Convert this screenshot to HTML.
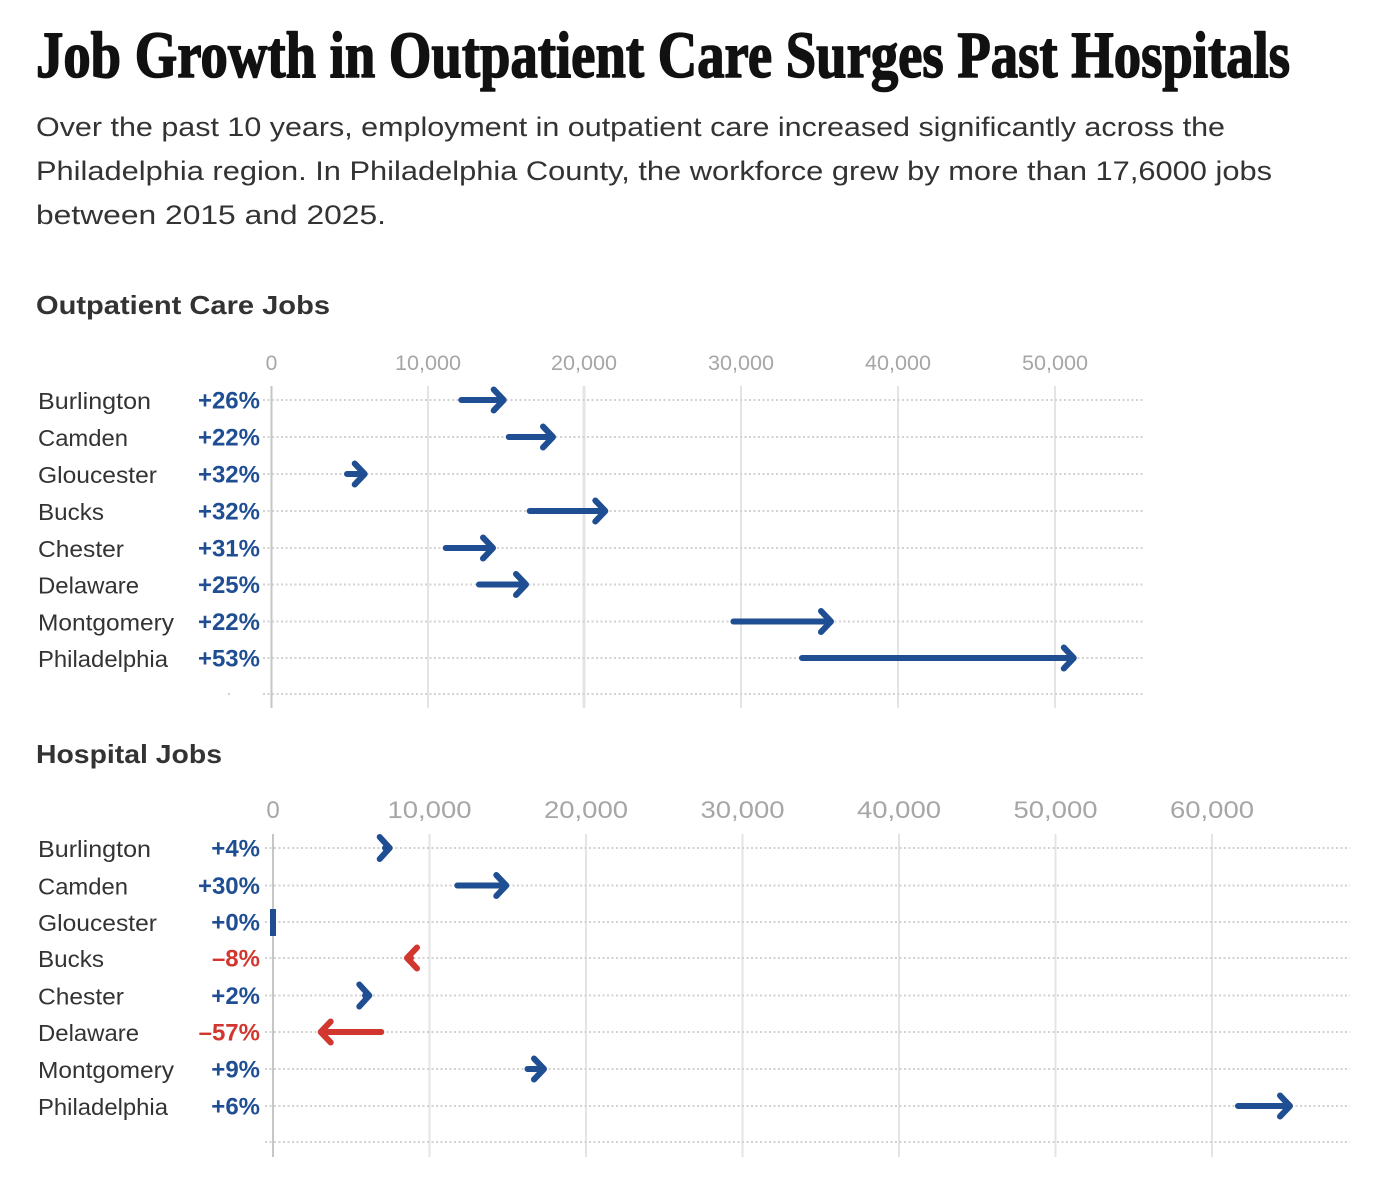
<!DOCTYPE html>
<html>
<head>
<meta charset="utf-8">
<style>
  html,body{margin:0;padding:0;background:#fff;}
  svg{display:block;}
</style>
</head>
<body>
<svg xmlns="http://www.w3.org/2000/svg" width="1380" height="1180" viewBox="0 0 1380 1180">
  <rect width="1380" height="1180" fill="#ffffff"/>

  <!-- Title -->
  <text x="36" y="77" font-family="Liberation Serif, serif" font-weight="bold" font-size="66" fill="#111" stroke="#111" stroke-width="1.6" stroke-linejoin="round" textLength="1254" lengthAdjust="spacingAndGlyphs">Job Growth in Outpatient Care Surges Past Hospitals</text>

  <!-- Subtitle -->
  <g font-family="Liberation Sans, sans-serif" font-size="27" fill="#333">
    <text x="36" y="136" textLength="1189" lengthAdjust="spacingAndGlyphs">Over the past 10 years, employment in outpatient care increased significantly across the</text>
    <text x="36" y="180" textLength="1236" lengthAdjust="spacingAndGlyphs">Philadelphia region. In Philadelphia County, the workforce grew by more than 17,6000 jobs</text>
    <text x="36" y="224" textLength="350" lengthAdjust="spacingAndGlyphs">between 2015 and 2025.</text>
  </g>

  <!-- ================= TOP CHART ================= -->
  <text x="36" y="314" font-family="Liberation Sans, sans-serif" font-weight="bold" font-size="26" fill="#333" textLength="294" lengthAdjust="spacingAndGlyphs">Outpatient Care Jobs</text>

  <!-- tick labels -->
  <g font-family="Liberation Sans, sans-serif" font-size="21" fill="#a6a6a6" text-anchor="middle">
    <text x="271.5" y="370">0</text>
    <text x="428" y="370" textLength="66" lengthAdjust="spacingAndGlyphs">10,000</text>
    <text x="584" y="370" textLength="66" lengthAdjust="spacingAndGlyphs">20,000</text>
    <text x="741" y="370" textLength="66" lengthAdjust="spacingAndGlyphs">30,000</text>
    <text x="898" y="370" textLength="66" lengthAdjust="spacingAndGlyphs">40,000</text>
    <text x="1055" y="370" textLength="66" lengthAdjust="spacingAndGlyphs">50,000</text>
  </g>

  <!-- vertical gridlines -->
  <g stroke="#e4e4e4" stroke-width="2">
    <line x1="428" y1="386" x2="428" y2="708"/>
    <line x1="584" y1="386" x2="584" y2="708" stroke-width="3"/>
    <line x1="741" y1="386" x2="741" y2="708"/>
    <line x1="898" y1="386" x2="898" y2="708"/>
    <line x1="1055" y1="386" x2="1055" y2="708"/>
  </g>

  <!-- dotted horizontal lines -->
  <g stroke="#d2d2d2" stroke-width="2" stroke-dasharray="2 2.5">
    <line x1="263" y1="400" x2="1143" y2="400"/>
    <line x1="263" y1="437" x2="1143" y2="437"/>
    <line x1="263" y1="474" x2="1143" y2="474"/>
    <line x1="263" y1="511" x2="1143" y2="511"/>
    <line x1="263" y1="548" x2="1143" y2="548"/>
    <line x1="263" y1="584.5" x2="1143" y2="584.5"/>
    <line x1="263" y1="621.5" x2="1143" y2="621.5"/>
    <line x1="263" y1="658" x2="1143" y2="658"/>
    <line x1="263" y1="694" x2="1143" y2="694"/>
  </g>
  <rect x="228" y="693" width="2" height="2" fill="#d2d2d2"/>

  <!-- zero axis -->
  <line x1="271.5" y1="386" x2="271.5" y2="708" stroke="#c6c6c6" stroke-width="2"/>

  <!-- county names -->
  <g font-family="Liberation Sans, sans-serif" font-size="23" fill="#333">
    <text x="38" y="409" textLength="113" lengthAdjust="spacingAndGlyphs">Burlington</text>
    <text x="38" y="446" textLength="90" lengthAdjust="spacingAndGlyphs">Camden</text>
    <text x="38" y="483" textLength="119" lengthAdjust="spacingAndGlyphs">Gloucester</text>
    <text x="38" y="520" textLength="66" lengthAdjust="spacingAndGlyphs">Bucks</text>
    <text x="38" y="557" textLength="86" lengthAdjust="spacingAndGlyphs">Chester</text>
    <text x="38" y="593.5" textLength="101" lengthAdjust="spacingAndGlyphs">Delaware</text>
    <text x="38" y="630.5" textLength="136" lengthAdjust="spacingAndGlyphs">Montgomery</text>
    <text x="38" y="667" textLength="130" lengthAdjust="spacingAndGlyphs">Philadelphia</text>
  </g>

  <!-- percents -->
  <g font-family="Liberation Sans, sans-serif" font-weight="bold" font-size="24" fill="#1f4e93" text-anchor="end">
    <text x="260" y="408.5">+26%</text>
    <text x="260" y="445.5">+22%</text>
    <text x="260" y="482.5">+32%</text>
    <text x="260" y="519.5">+32%</text>
    <text x="260" y="556.5">+31%</text>
    <text x="260" y="593">+25%</text>
    <text x="260" y="630">+22%</text>
    <text x="260" y="666.5">+53%</text>
  </g>

  <!-- arrows top -->
  <g fill="none" stroke="#1f4e93" stroke-width="6" stroke-linecap="round" stroke-linejoin="round">
    <path d="M461.3 400 H503.7 M493.7 389.5 L503.7 400 L493.7 410.5"/>
    <path d="M508.7 437 H553 M543 426.5 L553 437 L543 447.5"/>
    <path d="M347 474 H364.7 M354.7 463.5 L364.7 474 L354.7 484.5"/>
    <path d="M529.7 511 H605.3 M595.3 500.5 L605.3 511 L595.3 521.5"/>
    <path d="M445.7 548 H493 M483 537.5 L493 548 L483 558.5"/>
    <path d="M479 584.5 H526 M516 574 L526 584.5 L516 595"/>
    <path d="M733.4 621.5 H831 M821 611 L831 621.5 L821 632"/>
    <path d="M802 658 H1073.8 M1063.8 647.5 L1073.8 658 L1063.8 668.5"/>
  </g>

  <!-- ================= BOTTOM CHART ================= -->
  <text x="36" y="763" font-family="Liberation Sans, sans-serif" font-weight="bold" font-size="26" fill="#333" textLength="186" lengthAdjust="spacingAndGlyphs">Hospital Jobs</text>

  <g font-family="Liberation Sans, sans-serif" font-size="24" fill="#a6a6a6" text-anchor="middle">
    <text x="273" y="818">0</text>
    <text x="429.5" y="818" textLength="84" lengthAdjust="spacingAndGlyphs">10,000</text>
    <text x="586" y="818" textLength="84" lengthAdjust="spacingAndGlyphs">20,000</text>
    <text x="742.5" y="818" textLength="84" lengthAdjust="spacingAndGlyphs">30,000</text>
    <text x="899" y="818" textLength="84" lengthAdjust="spacingAndGlyphs">40,000</text>
    <text x="1055.5" y="818" textLength="84" lengthAdjust="spacingAndGlyphs">50,000</text>
    <text x="1212" y="818" textLength="84" lengthAdjust="spacingAndGlyphs">60,000</text>
  </g>

  <g stroke="#e4e4e4" stroke-width="2">
    <line x1="429.5" y1="834" x2="429.5" y2="1157"/>
    <line x1="586" y1="834" x2="586" y2="1157"/>
    <line x1="742.5" y1="834" x2="742.5" y2="1157"/>
    <line x1="899" y1="834" x2="899" y2="1157"/>
    <line x1="1055.5" y1="834" x2="1055.5" y2="1157"/>
    <line x1="1212" y1="834" x2="1212" y2="1157"/>
  </g>

  <g stroke="#d2d2d2" stroke-width="2" stroke-dasharray="2 2.5">
    <line x1="265" y1="848" x2="1350" y2="848"/>
    <line x1="265" y1="885.5" x2="1350" y2="885.5"/>
    <line x1="265" y1="922" x2="1350" y2="922"/>
    <line x1="265" y1="958" x2="1350" y2="958"/>
    <line x1="265" y1="995.5" x2="1350" y2="995.5"/>
    <line x1="265" y1="1032" x2="1350" y2="1032"/>
    <line x1="265" y1="1069" x2="1350" y2="1069"/>
    <line x1="265" y1="1106" x2="1350" y2="1106"/>
    <line x1="265" y1="1142" x2="1350" y2="1142"/>
  </g>

  <line x1="273" y1="834" x2="273" y2="1157" stroke="#c6c6c6" stroke-width="2"/>

  <g font-family="Liberation Sans, sans-serif" font-size="23" fill="#333">
    <text x="38" y="857" textLength="113" lengthAdjust="spacingAndGlyphs">Burlington</text>
    <text x="38" y="894.5" textLength="90" lengthAdjust="spacingAndGlyphs">Camden</text>
    <text x="38" y="931" textLength="119" lengthAdjust="spacingAndGlyphs">Gloucester</text>
    <text x="38" y="967" textLength="66" lengthAdjust="spacingAndGlyphs">Bucks</text>
    <text x="38" y="1004.5" textLength="86" lengthAdjust="spacingAndGlyphs">Chester</text>
    <text x="38" y="1041" textLength="101" lengthAdjust="spacingAndGlyphs">Delaware</text>
    <text x="38" y="1078" textLength="136" lengthAdjust="spacingAndGlyphs">Montgomery</text>
    <text x="38" y="1115" textLength="130" lengthAdjust="spacingAndGlyphs">Philadelphia</text>
  </g>

  <g font-family="Liberation Sans, sans-serif" font-weight="bold" font-size="24" text-anchor="end">
    <text x="260" y="856.5" fill="#1f4e93">+4%</text>
    <text x="260" y="894" fill="#1f4e93">+30%</text>
    <text x="260" y="930.5" fill="#1f4e93">+0%</text>
    <text x="260" y="966.5" fill="#d1372f">–8%</text>
    <text x="260" y="1004" fill="#1f4e93">+2%</text>
    <text x="260" y="1040.5" fill="#d1372f">–57%</text>
    <text x="260" y="1077.5" fill="#1f4e93">+9%</text>
    <text x="260" y="1114.5" fill="#1f4e93">+6%</text>
  </g>

  <!-- arrows bottom -->
  <g fill="none" stroke="#1f4e93" stroke-width="6" stroke-linecap="round" stroke-linejoin="round">
    <path d="M385 848 H389.7 M379.7 837 L389.7 848 L379.7 859"/>
    <path d="M457.3 885.5 H506.3 M496.3 875 L506.3 885.5 L496.3 896"/>
    <path d="M365 995.5 H369.3 M359.3 984.5 L369.3 995.5 L359.3 1006.5"/>
    <path d="M527.5 1069 H544 M534 1058.5 L544 1069 L534 1079.5"/>
    <path d="M1238 1106 H1290 M1280 1095.5 L1290 1106 L1280 1116.5"/>
  </g>
  <rect x="270" y="909" width="6" height="27" fill="#1f4e93"/>
  <g fill="none" stroke="#d1372f" stroke-width="6" stroke-linecap="round" stroke-linejoin="round">
    <path d="M411 958 H407 M417 947.5 L407 958 L417 968.5"/>
    <path d="M381.3 1032 H320.7 M330.7 1021.5 L320.7 1032 L330.7 1042.5"/>
  </g>
</svg>
</body>
</html>
